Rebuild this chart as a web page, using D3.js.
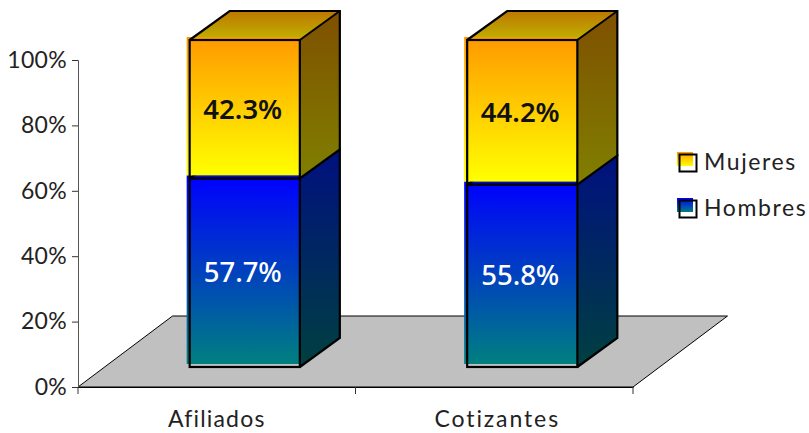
<!DOCTYPE html>
<html><head><meta charset="utf-8">
<script src="https://cdn.jsdelivr.net/npm/d3@7/dist/d3.min.js"></script>
<style>html,body{margin:0;padding:0;background:#fff}svg{display:block}</style>
</head><body><svg id="c" width="809" height="433"></svg>
<script>
const categories = ["Afiliados", "Cotizantes"];
const hombres = [57.7, 55.8];
const mujeres = [42.3, 44.2];
const yTicks = [0, 20, 40, 60, 80, 100];
const seriesNames = ["Mujeres", "Hombres"];

const svg = d3.select("#c");
const axisFont = "Lato, 'Open Sans', sans-serif";
const L = 78, R = 633, B = 387, T = 60;
const floorD = [94.5, -71], plane = [28, -20], depth = [40, -29], fillOff = -3;

const x = d3.scaleBand().domain(categories).range([L, R]).paddingInner(0.603).paddingOuter(0.3015);
const xb = d3.scaleBand().domain(categories).range([L, R]);
const y = d3.scaleLinear().domain([0, 100]).range([B, T]);

const defs = svg.append("defs");
function grad(id, a, b) {
  const g = defs.append("linearGradient").attr("id", id).attr("x1", 0).attr("y1", 0).attr("x2", 0).attr("y2", 1);
  g.append("stop").attr("offset", 0).attr("stop-color", a);
  g.append("stop").attr("offset", 1).attr("stop-color", b);
}
grad("mF", "#ff9900", "#ffff00");
grad("mS", "#7f4f00", "#808000");
grad("mT", "#bd7700", "#bfb300");
grad("hF", "#0000ff", "#008080");
grad("hS", "#001080", "#004040");
grad("hT", "#003f80", "#005f60");

// floor
svg.append("path")
  .attr("d", d3.line()([[L, B], [R, B], [R + floorD[0], B + floorD[1]], [L + floorD[0], B + floorD[1]]]) + "Z")
  .attr("fill", "#c0c0c0").attr("stroke", "#000").attr("stroke-width", 1);

// axes
const ay = svg.append("g").attr("transform", `translate(${L},0)`)
  .call(d3.axisLeft(y).tickValues(yTicks).tickFormat(d => d + "%").tickSize(6).tickPadding(5));
ay.select(".domain").attr("stroke", "#555");
ay.selectAll(".tick line").attr("stroke", "#333");
ay.selectAll("text").attr("font-family", axisFont).attr("font-size", 23).attr("fill", "#222").attr("letter-spacing", "0.3px");

const ax = svg.append("g").attr("transform", `translate(0,${B})`)
  .call(d3.axisBottom(xb).tickSize(0).tickPadding(24));
ax.select(".domain").attr("stroke", "#000");
ax.selectAll("text").attr("font-family", axisFont).attr("font-size", 23).attr("fill", "#222").attr("letter-spacing", "1.2px");
ax.selectAll(".tick").filter(d => d === "Cotizantes").select("text").attr("letter-spacing", "1.9px").attr("dx", 3);
svg.append("g").selectAll("line").data([L, L + xb.step(), L + 2 * xb.step()]).join("line")
  .attr("x1", d => d).attr("x2", d => d).attr("y1", B).attr("y2", B + 7).attr("stroke", "#333");

// bars
const rows = categories.map((c, i) => ({c, h: hombres[i], m: mujeres[i]}));
const bars = svg.append("g").selectAll("g").data(rows).join("g");

function segment(sel, from, to, key) {
  sel.each(function(d) {
    const g = d3.select(this);
    const x0 = x(d.c) + plane[0], x1 = x0 + x.bandwidth();
    const yb = y(from(d)) + plane[1], yt = y(to(d)) + plane[1];
    const [dx, dy] = depth;
    const line = d3.line();
    g.append("path").attr("d", line([[x1, yb], [x1 + dx, yb + dy], [x1 + dx, yt + dy], [x1, yt]]) + "Z")
      .attr("fill", `url(#${key}S)`);
    g.append("path").attr("d", line([[x0, yt], [x1, yt], [x1 + dx, yt + dy], [x0 + dx, yt + dy]]) + "Z")
      .attr("fill", `url(#${key}T)`);
    // the front gradient sits a little up and left of its outline
    g.append("rect").attr("x", x0 + fillOff).attr("y", yt + fillOff)
      .attr("width", x1 - x0 + 2.5).attr("height", yb - yt).attr("fill", `url(#${key}F)`);
    g.append("path").attr("d", line([[x1, yb], [x1 + dx, yb + dy], [x1 + dx, yt + dy], [x0 + dx, yt + dy], [x0, yt]]))
      .attr("fill", "none").attr("stroke", "#000").attr("stroke-width", 2.2);
    g.append("line").attr("x1", x1).attr("y1", yt).attr("x2", x1 + dx).attr("y2", yt + dy)
      .attr("stroke", "#000").attr("stroke-width", 2);
    g.append("rect").attr("x", x0).attr("y", yt).attr("width", x1 - x0).attr("height", yb - yt)
      .attr("fill", "none").attr("stroke", "#000").attr("stroke-width", 2.2);
  });
}
segment(bars, d => 0, d => d.h, "h");
segment(bars, d => d.h, d => 100, "m");

const labelFont = "'Noto Sans', 'Open Sans', sans-serif";
function labels(val, mid, color, weight) {
  svg.append("g").selectAll("text").data(rows).join("text")
    .attr("x", d => x(d.c) + plane[0] + x.bandwidth() / 2 - 2)
    .attr("y", d => y(mid(d)) + plane[1] - 0.5)
    .attr("dy", "0.36em").attr("text-anchor", "middle")
    .attr("font-family", labelFont).attr("font-size", 27.5).attr("font-weight", weight)
    .attr("fill", color).text(d => val(d).toFixed(1) + "%");
}
labels(d => d.h, d => d.h / 2, "#fff", 500);
labels(d => d.m, d => d.h + d.m / 2, "#111", 600);

// legend
const legY = d3.scalePoint().domain(seriesNames).range([152, 198]);
const leg = svg.append("g").selectAll("g").data(seriesNames).join("g")
  .attr("transform", d => `translate(677,${legY(d)})`);
leg.append("rect").attr("x", 2).attr("y", 2).attr("width", 18).attr("height", 18).attr("fill", "#fff");
leg.append("rect").attr("width", 16).attr("height", 14).attr("fill", d => d === "Mujeres" ? "url(#mF)" : "url(#hF)");
leg.append("rect").attr("x", 2.5).attr("y", 2.5).attr("width", 17).attr("height", 17)
  .attr("fill", "none").attr("stroke", "#000").attr("stroke-width", 2);
leg.append("text").attr("x", 27).attr("y", 18).text(d => d)
  .attr("font-family", axisFont).attr("font-size", 23).attr("fill", "#222").attr("letter-spacing", "1.6px");
</script></body></html>
